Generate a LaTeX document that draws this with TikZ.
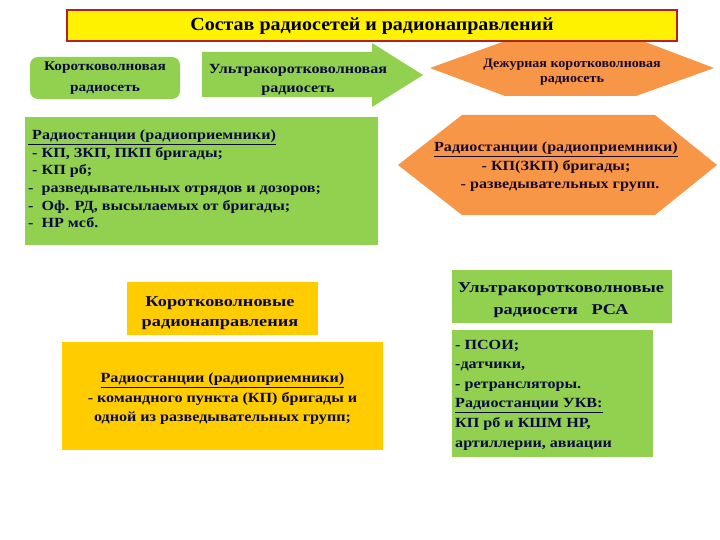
\documentclass[tikz,border=0pt]{standalone}
\usepackage{fontspec}
\setmainfont{Liberation Serif}
\newfontfamily\wideA[FakeStretch=1.15]{Liberation Serif}
\newfontfamily\wideB[FakeStretch=1.22]{Liberation Serif}
\newfontfamily\wideC[FakeStretch=1.08]{Liberation Serif}
\definecolor{gr}{HTML}{92D050}
\definecolor{org}{HTML}{F79646}
\definecolor{gold}{HTML}{FFCC00}
\definecolor{ttlborder}{HTML}{B22222}
\definecolor{navy}{HTML}{0A0A40}
\definecolor{dk}{HTML}{1A0A30}
\tikzset{
  txt/.style={text=navy, font=\wideA\bfseries\fontsize{14}{17.6}\selectfont, inner sep=2pt},
}
\begin{document}
\begin{tikzpicture}[x=1pt,y=-1pt]
\useasboundingbox (0,0) rectangle (720,540);
\fill[white] (0,0) rectangle (720,540);
% orange hexagons
\fill[org] (430,68) -- (508,40) -- (640,40) -- (714,68) -- (636,96) -- (505,96) -- cycle;
\fill[org] (398,165) -- (462,115) -- (655,115) -- (717,165) -- (655,215) -- (462,215) -- cycle;
% title
\node[draw=ttlborder, line width=2pt, fill=yellow, minimum width=610, minimum height=31, inner sep=0pt,
      font=\wideC\bfseries\fontsize{18.5}{22}\selectfont] (title) at (372,26) {Состав радиосетей и радионаправлений};
% short-wave net
\node[fill=gr, rounded corners=8pt, minimum width=150, minimum height=42, align=center, txt,
      font=\wideA\bfseries\fontsize{13.3}{21}\selectfont] (kv) at (105,78)
  {Коротковолновая\\радиосеть};
% UKV arrow
\fill[gr] (202,52) -- (372,52) -- (372,43) -- (423,75) -- (372,107) -- (372,97) -- (202,97) -- cycle;
\node[txt, align=center, font=\wideA\bfseries\fontsize{14}{18.5}\selectfont] (ukv) at (298,80) {Ультракоротковолновая\\радиосеть};
% duty hexagon text
\node[text=dk, font=\wideC\bfseries\fontsize{13}{15.5}\selectfont, align=center] (duty) at (572,72)
  {Дежурная коротковолновая\\радиосеть};
% big green box
\fill[gr] (25,117) rectangle (378,245);
\node[txt, anchor=west, align=left] (kvlist) at (26,179)
  {\underline{\ Радиостанции (радиоприемники)}\\
   \ - КП, ЗКП, ПКП бригады;\\
   \ - КП рб;\\
   -\ \ разведывательных отрядов и дозоров;\\
   -\ \ Оф. РД, высылаемых от бригады;\\
   -\ \ НР мсб.};
% duty list
\node[txt, text=dk, align=center, font=\wideA\bfseries\fontsize{14}{18.5}\selectfont] (dutylist) at (556,167)
  {\underline{Радиостанции (радиоприемники)}\\
   - КП(ЗКП) бригады;\\
   \ \ - разведывательных групп.};
% short-wave directions
\fill[gold] (127,282) rectangle (318,335);
\node[txt, align=center, font=\wideB\bfseries\fontsize{15}{20}\selectfont] (kvdir) at (220,313)
  {Коротковолновые\\радионаправления};
\fill[gold] (62,342) rectangle (383,450);
\node[txt, align=center, font=\wideA\bfseries\fontsize{14}{19.5}\selectfont] (kvdirlist) at (222.5,399)
  {\underline{Радиостанции (радиоприемники)}\\
   - командного пункта (КП) бригады и\\
   одной из разведывательных групп;};
% RSA
\fill[gr] (452,270) rectangle (672,323);
\node[txt, align=center, font=\wideB\bfseries\fontsize{15}{22}\selectfont] (rsa) at (561,300)
  {Ультракоротковолновые\\радиосети\ \ \ РСА};
\fill[gr] (452,330) rectangle (653,457);
\node[txt, anchor=west, align=left, font=\wideA\bfseries\fontsize{14}{19.6}\selectfont] (rsalist) at (453,395)
  {- ПСОИ;\\
   -датчики,\\
   - ретрансляторы.\\
   \underline{Радиостанции УКВ:}\\
   КП рб и КШМ НР,\\
   артиллерии, авиации};
\end{tikzpicture}
\end{document}
